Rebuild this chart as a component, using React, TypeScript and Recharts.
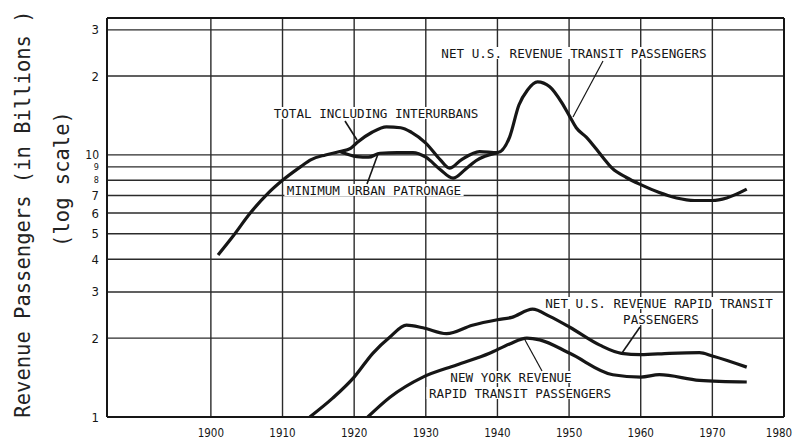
import { LineChart, Line, XAxis, YAxis, CartesianGrid, ReferenceLine } from "recharts";

// Net U.S. revenue transit passengers, upper branch (total incl. interurbans) through the 1920s-30s
const netYears = [1901, 1903, 1905.5, 1908, 1910, 1912.5, 1914, 1916, 1918, 1919.5, 1920.5, 1922.5, 1924.5, 1926.5, 1928, 1930, 1932, 1933.3, 1935, 1937.5, 1940, 1941.7, 1943, 1944.2, 1945.6, 1947.3, 1949, 1950.1, 1951, 1952.4, 1954.7, 1956, 1958, 1960, 1962.5, 1965, 1967.5, 1970, 1972, 1974.8];
const netValues = [4.15, 4.86, 6.0, 7.15, 8.0, 9.0, 9.6, 10.0, 10.3, 10.6, 11.2, 12.2, 12.8, 12.7, 12.2, 11.1, 9.6, 8.9, 9.6, 10.3, 10.2, 11.7, 15.5, 17.7, 19.0, 18.2, 15.8, 14.0, 12.7, 11.7, 9.8, 8.9, 8.2, 7.7, 7.2, 6.85, 6.7, 6.7, 6.85, 7.4];

// Minimum urban patronage branch
const urbanYears = [1918, 1920.4, 1922, 1923.6, 1926, 1928.2, 1930, 1932, 1933.8, 1935.5, 1937, 1940];
const urbanValues = [10.3, 9.85, 9.8, 10.15, 10.2, 10.2, 9.8, 8.8, 8.15, 8.8, 9.5, 10.2];

// Net U.S. revenue rapid transit passengers
const rapidYears = [1913.8, 1917, 1920, 1922.6, 1925, 1927.3, 1929.6, 1932.9, 1936.5, 1940, 1942, 1944.9, 1947.3, 1950.1, 1954.3, 1957.3, 1960, 1964, 1968.2, 1970, 1974.8];
const rapidValues = [1.0, 1.18, 1.42, 1.75, 2.02, 2.24, 2.19, 2.08, 2.24, 2.35, 2.4, 2.58, 2.42, 2.2, 1.88, 1.75, 1.73, 1.75, 1.76, 1.71, 1.55];

// New York revenue rapid transit passengers
const nyYears = [1921.9, 1925, 1929.6, 1934.3, 1938.9, 1941.7, 1944.1, 1945.9, 1950.1, 1956.1, 1960, 1962.6, 1968.2, 1974.8];
const nyValues = [1.0, 1.19, 1.42, 1.58, 1.75, 1.9, 2.0, 1.97, 1.75, 1.45, 1.42, 1.45, 1.38, 1.36];

const xTicks = [1900, 1910, 1920, 1930, 1940, 1950, 1960, 1970, 1980];
const yTicks = [1, 2, 3, 4, 5, 6, 7, 8, 9, 10, 20, 30];

const X_MIN = 1885.5;
const X_MAX = 1980;
const Y_MIN = 1;
const Y_MAX = 33.3;

const toRows = (years: number[], values: number[]) =>
  years.map((year, i) => ({ year, v: values[i] }));

const netData = toRows(netYears, netValues);
const urbanData = toRows(urbanYears, urbanValues);
const rapidData = toRows(rapidYears, rapidValues);
const nyData = toRows(nyYears, nyValues);

const INK = "#161616";
const TICK_FONT = "'DejaVu Sans Condensed', 'Liberation Sans Narrow', 'DejaVu Sans', sans-serif";
const LABEL_FONT = "'DejaVu Sans Mono', monospace";
const CHAR_W = 7.62;

function XTick(props: any) {
  const { x, payload } = props;
  // last label sits against the right frame, pull it inside the page
  const shift = payload.value === 1980 ? -5 : 0;
  return (
    <text x={x + shift} y={437} textAnchor="middle" fontFamily={TICK_FONT} fontSize={11.5} fill={INK}>
      {payload.value}
    </text>
  );
}

function YTick(props: any) {
  const { y, payload } = props;
  const v = payload.value as number;
  const small = v === 8 || v === 9;
  return (
    <text x={99} y={y} dy={small ? 3 : 4.5} textAnchor="end" fontFamily={TICK_FONT} fontSize={small ? 9 : v === 10 ? 12 : 13} fill={INK}>
      {v >= 20 ? v / 10 : v}
    </text>
  );
}

// caption lines, each on its own white patch so grid lines break around it
function Note({ y, lines }: { y: number; lines: [string, number][] }) {
  return (
    <g>
      {lines.map(([t, x], i) => {
        const w = t.length * CHAR_W;
        const cy = y + i * 16;
        return (
          <g key={i}>
            <rect x={x - w / 2 - 2} y={cy - 6} width={w + 4} height={12} fill="#fff" />
            <text x={x} y={cy + 4.5} textAnchor="middle" fontFamily={LABEL_FONT} fontSize={12.6} fill={INK}>
              {t}
            </text>
          </g>
        );
      })}
    </g>
  );
}

export default function App() {
  return (
    <div style={{ position: "relative", width: 796, height: 441, background: "#fff" }}>
      <style>{"body{margin:0}"}</style>
      <LineChart width={796} height={441} margin={{ top: 18, right: 12, bottom: 0, left: 0 }}>
        <CartesianGrid stroke="#2b2b2b" strokeWidth={1.4} />
        <XAxis
          dataKey="year"
          type="number"
          domain={[X_MIN, X_MAX]}
          ticks={xTicks}
          interval={0}
          allowDataOverflow
          axisLine={false}
          tickLine={false}
          height={24}
          tick={<XTick />}
        />
        <YAxis
          type="number"
          scale="log"
          domain={[Y_MIN, Y_MAX]}
          ticks={yTicks}
          interval={0}
          allowDataOverflow
          axisLine={false}
          tickLine={false}
          width={107}
          tick={<YTick />}
        />
        <ReferenceLine x={X_MIN} stroke={INK} strokeWidth={2} />
        <ReferenceLine x={X_MAX} stroke={INK} strokeWidth={2} />
        <ReferenceLine y={Y_MAX} stroke={INK} strokeWidth={2} />
        <ReferenceLine y={Y_MIN} stroke={INK} strokeWidth={2} />
        <Line data={urbanData} dataKey="v" type="monotone" stroke={INK} strokeWidth={3.2} dot={false} isAnimationActive={false} />
        <Line data={netData} dataKey="v" type="monotone" stroke={INK} strokeWidth={3.2} dot={false} isAnimationActive={false} />
        <Line data={rapidData} dataKey="v" type="monotone" stroke={INK} strokeWidth={3.2} dot={false} isAnimationActive={false} />
        <Line data={nyData} dataKey="v" type="monotone" stroke={INK} strokeWidth={3.2} dot={false} isAnimationActive={false} />
      </LineChart>

      <svg width={796} height={441} style={{ position: "absolute", left: 0, top: 0, pointerEvents: "none" }}>
        {/* axis title */}
        <text transform="translate(30,214) rotate(-90)" textAnchor="middle" fontFamily={LABEL_FONT} fontSize={20.5} fill="#222">
          Revenue Passengers (in Billions )
        </text>
        <text transform="translate(69,179) rotate(-90)" textAnchor="middle" fontFamily={LABEL_FONT} fontSize={20.5} fill="#222">
          (log scale)
        </text>

        {/* series notes and leaders */}
        <Note y={53} lines={[["NET U.S. REVENUE TRANSIT PASSENGERS", 574]]} />
        <line x1={603} y1={61} x2={573} y2={117} stroke={INK} strokeWidth={1.2} />

        <Note y={113} lines={[["TOTAL INCLUDING INTERURBANS", 376]]} />
        <line x1={345} y1={121} x2={357} y2={140} stroke={INK} strokeWidth={1.6} />

        <Note y={190} lines={[["MINIMUM URBAN PATRONAGE", 374]]} />
        <line x1={367} y1={184} x2={378} y2={154} stroke={INK} strokeWidth={1.6} />

        <Note y={303} lines={[["NET U.S. REVENUE RAPID TRANSIT", 659], ["PASSENGERS", 661]]} />
        <line x1={640} y1={327} x2={622} y2={353} stroke={INK} strokeWidth={1.6} />

        <Note y={377} lines={[["NEW YORK REVENUE", 511], ["RAPID TRANSIT PASSENGERS", 520]]} />
        <line x1={542} y1={371} x2={525} y2={340} stroke={INK} strokeWidth={1.2} />
      </svg>
    </div>
  );
}
